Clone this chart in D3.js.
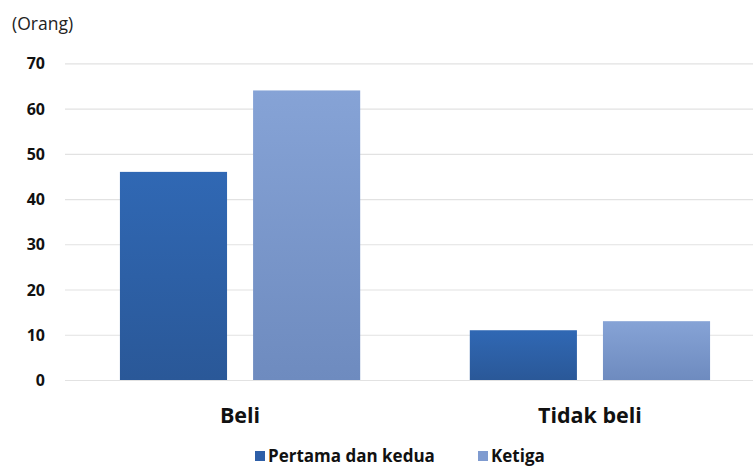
<!DOCTYPE html>
<html><head><meta charset="utf-8">
<script src="https://cdn.jsdelivr.net/npm/d3@7"></script>
<style>
html,body{margin:0;padding:0;background:#fff;}
svg{display:block;font-family:"Open Sans","Noto Sans",sans-serif;}
</style></head>
<body>
<svg id="chart" width="753" height="472"></svg>
<script>
const categories = ["Beli", "Tidak beli"];
const seriesNames = ["Pertama dan kedua", "Ketiga"];
const pertamaDanKedua = [46, 11];
const ketiga = [64, 13];
const yTicks = [0, 10, 20, 30, 40, 50, 60, 70];
const unitLabel = "(Orang)";

const svg = d3.select("#chart");
const W = 753, H = 472;
const y = d3.scaleLinear().domain([0, 70]).range([380, 63.3]);
const x0 = d3.scaleBand().domain(categories).range([65, 765]).paddingInner(0.3133).paddingOuter(0.157);
const x1 = d3.scaleBand().domain(seriesNames).range([0, x0.bandwidth()]).paddingInner(0.1955).paddingOuter(0);
const colors = {"Pertama dan kedua": ["#3068b4", "#2a5898"], "Ketiga": ["#86a3d6", "#6e8bbf"]};
const legendColors = {"Pertama dan kedua": "#2e5fa8", "Ketiga": "#7f9bd0"};

const defs = svg.append("defs");
seriesNames.forEach((s, i) => {
  const g = defs.append("linearGradient").attr("id", "g" + i).attr("x1", 0).attr("y1", 0).attr("x2", 0).attr("y2", 1);
  g.append("stop").attr("offset", "0%").attr("stop-color", colors[s][0]);
  g.append("stop").attr("offset", "100%").attr("stop-color", colors[s][1]);
});

const yAxis = d3.axisLeft(y).tickValues(yTicks).tickSize(0).tickPadding(0);
const ga = svg.append("g").attr("transform", "translate(45,0)").call(yAxis)
  .attr("font-family", "'Open Sans','Noto Sans',sans-serif");
ga.select(".domain").remove();
ga.selectAll("text").attr("font-size", 16).attr("font-weight", "bold").attr("fill", "#111").attr("dy", "0.35em");

svg.append("g").selectAll("line").data(yTicks).join("line")
  .attr("x1", 65).attr("x2", W)
  .attr("y1", d => y(d) + 0.5).attr("y2", d => y(d) + 0.5)
  .attr("stroke", "#e2e2e2").attr("stroke-width", 1.2);

const data = categories.map((c, i) => ({cat: c, values: [pertamaDanKedua[i], ketiga[i]]}));
const groups = svg.append("g").selectAll("g").data(data).join("g")
  .attr("transform", d => `translate(${x0(d.cat)},0)`);
groups.selectAll("rect").data(d => d.values.map((v, i) => ({s: seriesNames[i], v, i})))
  .join("rect")
  .attr("x", d => x1(d.s)).attr("width", x1.bandwidth())
  .attr("y", d => y(d.v)).attr("height", d => y(0) - y(d.v))
  .attr("fill", d => `url(#g${d.i})`);

svg.append("g").selectAll("text").data(categories).join("text")
  .attr("x", d => x0(d) + x0.bandwidth() / 2).attr("y", 423)
  .attr("text-anchor", "middle").attr("font-size", 21.5).attr("font-weight", "bold").attr("fill", "#111")
  .text(d => d);

svg.append("text").attr("x", 12).attr("y", 30).attr("font-size", 17.5).attr("fill", "#222").text(unitLabel);

const legendPos = [255, 478];
const lg = svg.append("g").selectAll("g").data(seriesNames).join("g")
  .attr("transform", (d, i) => `translate(${legendPos[i]},451)`);
lg.append("rect").attr("width", 10).attr("height", 10).attr("fill", d => legendColors[d]);
lg.append("text").attr("x", 13).attr("y", 11).attr("font-size", 17).attr("font-weight", "bold").attr("fill", "#111").text(d => d);
</script>
</body></html>
